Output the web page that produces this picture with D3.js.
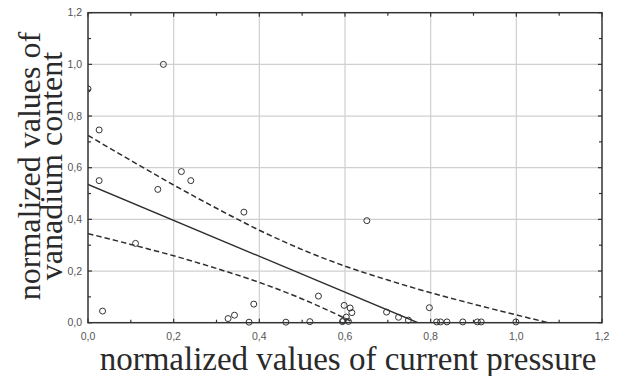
<!DOCTYPE html>
<html>
<head>
<meta charset="utf-8">
<script src="https://cdn.jsdelivr.net/npm/d3@7"></script>
<style>
  html, body { margin: 0; padding: 0; background: #fff; }
  svg { display: block; }
</style>
</head>
<body>
<svg id="chart" width="618" height="376"></svg>
<script>
// Observations: normalized current pressure vs normalized vanadium content
const pressure = [0.000, 0.026, 0.026, 0.034, 0.111, 0.163, 0.176, 0.218, 0.240,
  0.327, 0.342, 0.364, 0.376, 0.387, 0.462, 0.518, 0.538, 0.594, 0.596, 0.598,
  0.603, 0.608, 0.612, 0.616, 0.651, 0.697, 0.725, 0.748, 0.797, 0.814, 0.823,
  0.838, 0.875, 0.909, 0.918, 0.999];
const vanadium = [0.905, 0.746, 0.550, 0.045, 0.307, 0.516, 1.000, 0.585, 0.550,
  0.016, 0.029, 0.428, 0.002, 0.072, 0.002, 0.004, 0.103, 0.004, 0.008, 0.067,
  0.022, 0.005, 0.057, 0.039, 0.395, 0.041, 0.021, 0.010, 0.058, 0.003, 0.003,
  0.003, 0.003, 0.003, 0.003, 0.003];

// Linear fit (end points)
const fitX = [0, 0.77];
const fitY = [0.535, 0];

// 95% confidence band around the fit
const bandX     = [0, 0.1, 0.2, 0.3, 0.4, 0.5, 0.6, 0.7, 0.8, 0.9, 1.0, 1.1];
const bandUpper = [0.725, 0.628, 0.533, 0.443, 0.358, 0.283, 0.219, 0.165, 0.116, 0.072, 0.030, -0.010];
const bandLower = [0.345, 0.303, 0.259, 0.210, 0.156, 0.092, 0.017, -0.068, -0.158, -0.253, -0.350, -0.450];

// Axis ticks
const majorTicks = [0, 0.2, 0.4, 0.6, 0.8, 1.0, 1.2];
const minorTicks = [0.1, 0.3, 0.5, 0.7, 0.9, 1.1];
const tickLabels = ["0,0", "0,2", "0,4", "0,6", "0,8", "1,0", "1,2"];

const xTitle = "normalized values of current pressure";
const yTitleLines = ["normalized values of", "vanadium content"];

const margin = { left: 88, top: 12.7, right: 16, bottom: 53.3 };
const W = 618, H = 376;
const w = W - margin.left - margin.right;
const h = H - margin.top - margin.bottom;

const svg = d3.select("#chart");
const g = svg.append("g").attr("transform", `translate(${margin.left},${margin.top})`);

const x = d3.scaleLinear().domain([0, 1.2]).range([0, w]);
const y = d3.scaleLinear().domain([0, 1.2]).range([h, 0]);

const defs = svg.append("defs");
defs.append("clipPath").attr("id", "plotClip")
  .append("rect").attr("x", 0).attr("y", 0).attr("width", w).attr("height", h);
defs.append("clipPath").attr("id", "pointClip")
  .append("rect").attr("x", 0).attr("y", -10).attr("width", w).attr("height", h + 20);

// Grid
g.append("g").selectAll("line").data(majorTicks.slice(1, -1)).join("line")
  .attr("x1", d => x(d)).attr("x2", d => x(d)).attr("y1", 0).attr("y2", h)
  .attr("stroke", "#cfcfcf").attr("stroke-width", 1.2);
g.append("g").selectAll("line").data(majorTicks.slice(1, -1)).join("line")
  .attr("y1", d => y(d)).attr("y2", d => y(d)).attr("x1", 0).attr("x2", w)
  .attr("stroke", "#cfcfcf").attr("stroke-width", 1.2);

// Fit and confidence band
const plot = g.append("g").attr("clip-path", "url(#plotClip)");
const line = d3.line().x(d => x(d[0])).y(d => y(d[1]));
const curve = d3.line().x(d => x(d[0])).y(d => y(d[1])).curve(d3.curveMonotoneX);

plot.append("path").datum(d3.zip(fitX, fitY)).attr("d", line)
  .attr("fill", "none").attr("stroke", "#2e2e2e").attr("stroke-width", 1.4);
[bandUpper, bandLower].forEach(vals => {
  plot.append("path").datum(d3.zip(bandX, vals)).attr("d", curve)
    .attr("fill", "none").attr("stroke", "#2e2e2e").attr("stroke-width", 1.5)
    .attr("stroke-dasharray", "5.5,3");
});

// Points
g.append("g").attr("clip-path", "url(#pointClip)")
  .selectAll("circle").data(d3.zip(pressure, vanadium)).join("circle")
  .attr("cx", d => x(d[0])).attr("cy", d => y(d[1])).attr("r", 3)
  .attr("fill", "none").attr("stroke", "#333").attr("stroke-width", 1);

// Frame
g.append("rect").attr("x", 0).attr("y", 0).attr("width", w).attr("height", h)
  .attr("fill", "none").attr("stroke", "#333").attr("stroke-width", 1.5);

// Inward ticks on all four sides
const tickAll = majorTicks.concat(minorTicks);
const tk = g.append("g").attr("stroke", "#333").attr("stroke-width", 1.2);
tickAll.forEach(t => {
  const len = majorTicks.includes(t) ? 4 : 3;
  tk.append("line").attr("x1", x(t)).attr("x2", x(t)).attr("y1", h).attr("y2", h - len);
  tk.append("line").attr("x1", x(t)).attr("x2", x(t)).attr("y1", 0).attr("y2", len);
  tk.append("line").attr("y1", y(t)).attr("y2", y(t)).attr("x1", 0).attr("x2", len);
  tk.append("line").attr("y1", y(t)).attr("y2", y(t)).attr("x1", w).attr("x2", w - len);
});

// Tick labels
const lblFont = "'Liberation Sans', Arial, sans-serif";
g.append("g").selectAll("text").data(majorTicks).join("text")
  .attr("x", d => x(d)).attr("y", h + 17)
  .attr("text-anchor", "middle").attr("font-family", lblFont).attr("font-size", 10.5)
  .attr("fill", "#555").text((d, i) => tickLabels[i]);
g.append("g").selectAll("text").data(majorTicks).join("text")
  .attr("x", -6).attr("y", d => y(d)).attr("dy", "0.35em")
  .attr("text-anchor", "end").attr("font-family", lblFont).attr("font-size", 10.5)
  .attr("fill", "#555").text((d, i) => tickLabels[i]);

// Axis titles
const titleFont = "'Liberation Serif', 'Times New Roman', serif";
svg.append("text").attr("x", margin.left + w / 2 + 3).attr("y", 370)
  .attr("text-anchor", "middle").attr("font-family", titleFont).attr("font-size", 33)
  .attr("fill", "#2a2a2a").text(xTitle);

const yt = svg.append("text").attr("transform", "translate(0,166) rotate(-90)")
  .attr("text-anchor", "middle").attr("font-family", titleFont).attr("font-size", 32)
  .attr("fill", "#2a2a2a");
yt.append("tspan").attr("x", 0).attr("y", 40).text(yTitleLines[0]);
yt.append("tspan").attr("x", 0).attr("y", 62).text(yTitleLines[1]);
</script>
</body>
</html>
